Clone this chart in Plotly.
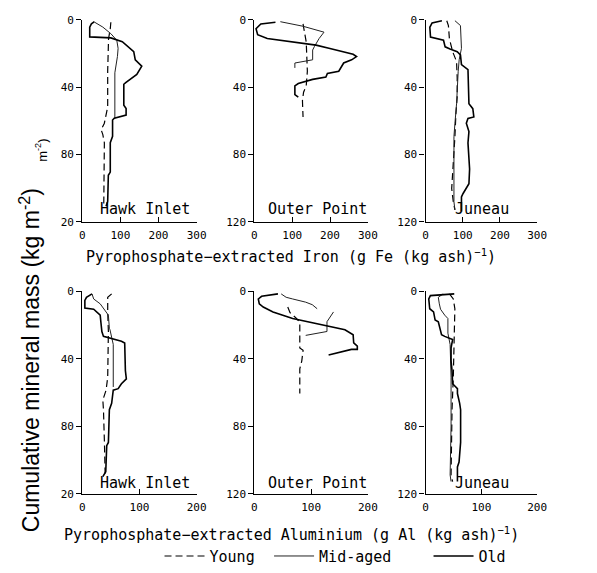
import plotly.graph_objects as go

# ---------------- DATA ----------------
# Depth = cumulative mineral mass (kg m-2)
# Iron panels (g Fe (kg ash)-1)
HI_FE_YOUNG_X = [75, 73.5, 69, 66.7, 66.7, 58, 49.6, 54, 58, 58, 56.4]
HI_FE_YOUNG_D = [1.5, 5.4, 11.2, 30.5, 51.8, 61.4, 65.3, 68.2, 73, 107.8, 110.7]
HI_FE_MID_X = [32.5, 54, 75, 90.6, 94, 92.3, 85.5, 85.5]
HI_FE_MID_D = [1.5, 4.4, 8.3, 12.2, 17, 21.8, 31.5, 58.5]
HI_FE_OLD_X = [32, 24, 19.6, 19.6, 75, 105, 135, 139, 156, 143, 114, 109, 109, 115, 115, 84, 79.5,
               79.5, 73.5, 73.5, 68.4, 66.7, 62.4]
HI_FE_OLD_D = [1.2, 2.5, 4.4, 10.2, 10.8, 13.1, 19, 23.8, 27.6, 32.5, 37.3, 38.3, 50.8, 52.7, 56.6,
               58.5, 59.5, 69.2, 73, 90.4, 92.3, 107.8, 110.7]

OP_FE_YOUNG_X = [128.6, 133, 137, 140, 137, 130, 127, 128.6]
OP_FE_YOUNG_D = [2.5, 7.4, 13.2, 30.6, 39.3, 43, 48, 57.7]
OP_FE_MID_X = [68.6, 128.6, 184, 171, 158.5, 154, 154, 107, 107]
OP_FE_MID_D = [1.2, 3.9, 7.4, 11.2, 16, 18, 23.8, 25.7, 28.6]
OP_FE_OLD_X = [55.7, 17, 4.3, 8.6, 34, 94, 163, 197, 261, 270, 257, 236, 227, 223, 193, 189, 154,
               116, 107, 107, 116]
OP_FE_OLD_D = [1.5, 2.5, 5.4, 8.9, 11.2, 13.2, 15.1, 17, 20.5, 21.9, 23.8, 25.7, 28.6, 30.6, 31.9,
               34, 35.4, 37.9, 39.3, 44.5, 46]

JU_FE_YOUNG_X = [57, 61.4, 64, 72.8, 83.3, 85, 85, 81.6, 78.9, 74.5, 70.2, 74.5, 78.9]
JU_FE_YOUNG_D = [0.6, 3.5, 11.2, 19, 24.8, 34.4, 46, 55.7, 69.3, 88.6, 100.2, 108, 112.8]
JU_FE_MID_X = [78.9, 93.8, 96.5, 90.3, 87.7, 86, 83.3, 78.9, 76.3, 76.3, 78.9]
JU_FE_MID_D = [0.6, 3.5, 17, 23.8, 30.6, 40.2, 49.9, 61.5, 69.3, 108, 112.8]
JU_FE_OLD_X = [43.9, 17.5, 11.4, 13.2, 48.2, 52.6, 65.8, 85, 93.8, 96.5, 114, 116.6, 127, 129.8,
               114, 109.6, 116.6, 114, 118.4, 116.6, 100.9, 96.5, 96.5]
JU_FE_OLD_D = [0.6, 1.9, 4.5, 10.3, 12.2, 16.1, 17.4, 19, 20.9, 26.7, 29.6, 49.9, 52.8, 57.7, 58.6,
               61.5, 66.4, 73.1, 88.6, 97.3, 103.1, 105.1, 113.8]

# Aluminium panels (g Al (kg ash)-1)
HI_AL_YOUNG_X = [51.4, 44.5, 44.5, 45.7, 44.5, 41.7, 36, 37.1, 38.8, 40]
HI_AL_YOUNG_D = [1.5, 3.5, 12.2, 23.8, 50.9, 58.6, 64.4, 70.2, 89.6, 108]
HI_AL_MID_X = [17.1, 20, 31.4, 40, 45.7, 47.4, 48.5, 54.2, 54.2]
HI_AL_MID_D = [1.5, 4.5, 7.4, 11.2, 14.1, 21.9, 22.8, 31.5, 56.7]
HI_AL_OLD_X = [17.1, 7.4, 4.6, 4.6, 20, 31.4, 32.5, 34.3, 37.1, 68.5, 74.2, 75.4, 77.1, 68.5, 62.8,
               54.2, 51.4, 47.4, 45.7, 42.8, 41.1, 36]
HI_AL_OLD_D = [1.5, 3.5, 5.4, 9.9, 10.6, 14.1, 18, 23.8, 26.7, 29.6, 30.6, 47, 51.9, 54.8, 57.7,
               58.6, 66.4, 70.2, 89.6, 91.5, 107, 109.9]

OP_AL_YOUNG_X = [58.8, 62.8, 73.2, 80, 80, 85.8, 83.5, 80, 80]
OP_AL_YOUNG_D = [9.3, 12.6, 15.7, 18.4, 33.5, 35, 41.2, 46, 60.6]
OP_AL_MID_X = [47.2, 55.9, 67.4, 90.4, 102, 110.6, None, 139.4, 133.6, 127.9, 127.9, 90.4]
OP_AL_MID_D = [1.5, 3.5, 4.5, 6.4, 7.9, 10.3, None, 12.2, 15.1, 18, 23.8, 26.1]
OP_AL_OLD_X = [41.5, 12.7, 6.9, 8.6, 15.6, 32.8, 67.4, 107.7, 136.5, 159.6, 174, 175, 181.4, 181.4,
               171, 130.8]
OP_AL_OLD_D = [1.5, 2.9, 4.5, 7.4, 9.3, 12.2, 16.1, 19, 20.9, 22.8, 25.7, 30.6, 32.5, 34.4, 34.4,
               37.7]

JU_AL_YOUNG_X = [42.8, 49.7, 52.5, 51.4, 49.7, 47.4, 46.3, 45.7, 48.5]
JU_AL_YOUNG_D = [1.5, 4.5, 10.3, 31.5, 50.9, 70.2, 89.6, 108.9, 112.8]
JU_AL_MID_X = [31.4, 22.8, 24.6, 26.8, 34.3, 40, 40, 44, 45.7, 45.7, 44, 45.7]
JU_AL_MID_D = [1.5, 3.5, 7.4, 10.6, 14.1, 16.1, 24.8, 31.5, 50.9, 79.9, 108.9, 112.8]
JU_AL_OLD_X = [51.4, 8.6, 5.7, 7.4, 14.3, 17.1, 22.8, 25.7, 28.6, 34.3, 48.5, 45.7, 45.7, 47.4, 48.5,
               57.1, 57.1, 61.1, 62.8, 62.8, 60, 57.1, 57.1]
JU_AL_OLD_D = [1.5, 2.5, 4.5, 10.3, 12.2, 17, 18, 21.9, 25.7, 26.7, 28.6, 33.5, 41.2, 47, 54.8,
               57.7, 60.6, 66.4, 70.2, 89.6, 101.2, 104.1, 112.8]

SITES = ["Hawk Inlet", "Outer Point", "Juneau"]
AGES = ["Young", "Mid-aged", "Old"]
FE_TICKS = [0, 100, 200, 300]
AL_TICKS = [0, 100, 200]
DEPTH_TICKS = [0, 40, 80, 120]

PANELS = [
    (0, 0, {"Young": (HI_FE_YOUNG_X, HI_FE_YOUNG_D), "Mid-aged": (HI_FE_MID_X, HI_FE_MID_D), "Old": (HI_FE_OLD_X, HI_FE_OLD_D)}),
    (0, 1, {"Young": (OP_FE_YOUNG_X, OP_FE_YOUNG_D), "Mid-aged": (OP_FE_MID_X, OP_FE_MID_D), "Old": (OP_FE_OLD_X, OP_FE_OLD_D)}),
    (0, 2, {"Young": (JU_FE_YOUNG_X, JU_FE_YOUNG_D), "Mid-aged": (JU_FE_MID_X, JU_FE_MID_D), "Old": (JU_FE_OLD_X, JU_FE_OLD_D)}),
    (1, 0, {"Young": (HI_AL_YOUNG_X, HI_AL_YOUNG_D), "Mid-aged": (HI_AL_MID_X, HI_AL_MID_D), "Old": (HI_AL_OLD_X, HI_AL_OLD_D)}),
    (1, 1, {"Young": (OP_AL_YOUNG_X, OP_AL_YOUNG_D), "Mid-aged": (OP_AL_MID_X, OP_AL_MID_D), "Old": (OP_AL_OLD_X, OP_AL_OLD_D)}),
    (1, 2, {"Young": (JU_AL_YOUNG_X, JU_AL_YOUNG_D), "Mid-aged": (JU_AL_MID_X, JU_AL_MID_D), "Old": (JU_AL_OLD_X, JU_AL_OLD_D)}),
]

# ---------------- STYLE / LAYOUT ----------------
W, H = 597, 573
FONT = "DejaVu Sans Mono"
LINE_STYLE = {
    "Young": dict(color="black", width=1.2, dash="7px,4px"),
    "Mid-aged": dict(color="#222222", width=1.0),
    "Old": dict(color="black", width=1.6),
}
LEGEND_NAME = {"Young": "legend", "Mid-aged": "legend2", "Old": "legend3"}

COL_PX = [(81, 198), (257, 373), (432, 546)]
ROW_PX = [(14, 221), (292, 499)]


def px_x(p):
    return p / W


def px_y(p):
    return 1 - p / H


fig = go.Figure()
layout = dict(
    width=W, height=H, margin=dict(l=0, r=0, t=0, b=0),
    paper_bgcolor="white", plot_bgcolor="white",
    font=dict(family=FONT, color="black", size=11),
    annotations=[],
)

for i, (row, col, series) in enumerate(PANELS):
    n = i + 1
    xs = "x" if n == 1 else f"x{n}"
    ys = "y" if n == 1 else f"y{n}"
    xkey = "xaxis" if n == 1 else f"xaxis{n}"
    ykey = "yaxis" if n == 1 else f"yaxis{n}"
    ticks = FE_TICKS if row == 0 else AL_TICKS
    for age in AGES:
        x, d = series[age]
        fig.add_trace(go.Scatter(
            x=x, y=d, mode="lines", line=LINE_STYLE[age], name=age,
            xaxis=xs, yaxis=ys, connectgaps=False,
            showlegend=(n == 1), legend=LEGEND_NAME[age],
        ))
    layout[xkey] = dict(
        domain=[px_x(COL_PX[col][0]), px_x(COL_PX[col][1])],
        anchor=ys, range=[0, ticks[-1]], tickvals=ticks,
        showline=True, linecolor="black", linewidth=1.3,
        ticks="inside", ticklen=5, tickcolor="black", tickwidth=1.3,
        showgrid=False, zeroline=False, tickfont=dict(size=11, family=FONT),
        ticklabelstandoff=3,
    )
    ytext = [str(v) for v in DEPTH_TICKS]
    if col == 0:
        ytext[-1] = "20"
    layout[ykey] = dict(
        domain=[px_y(ROW_PX[row][1]), px_y(ROW_PX[row][0])],
        anchor=xs, range=[120, 0], tickvals=DEPTH_TICKS, ticktext=ytext,
        showline=True, linecolor="black", linewidth=1.3,
        ticks="outside", ticklen=5, tickcolor="black", tickwidth=1.3,
        showgrid=False, zeroline=False, tickfont=dict(size=11, family=FONT),
    )
    label_x = {0: 145, 1: 321, 2: 490}[col]
    label_y = 208 if row == 0 else 488
    layout["annotations"].append(dict(
        text=SITES[col], xref="paper", yref="paper",
        x=px_x(label_x), y=px_y(label_y), xanchor="center", yanchor="middle",
        showarrow=False, font=dict(size=15, family=FONT),
    ))

layout["annotations"] += [
    dict(text="Pyrophosphate\u2212extracted Iron (g Fe (kg ash)<sup>\u22121</sup>)",
         xref="paper", yref="paper", x=px_x(294), y=px_y(256), xanchor="center", yanchor="middle",
         showarrow=False, font=dict(size=15, family=FONT)),
    dict(text="Pyrophosphate\u2212extracted Aluminium (g Al (kg ash)<sup>\u22121</sup>)",
         xref="paper", yref="paper", x=px_x(295), y=px_y(540), xanchor="center", yanchor="middle",
         showarrow=False, font=dict(size=15, family=FONT)),
    dict(text="Cumulative mineral mass (kg m<sup>-2</sup>)",
         xref="paper", yref="paper", x=px_x(27), y=px_y(362), xanchor="center", yanchor="middle",
         textangle=-90, showarrow=False, font=dict(size=23, family="Liberation Sans")),
    dict(text="m<sup>-2</sup>)",
         xref="paper", yref="paper", x=px_x(39), y=px_y(148), xanchor="center", yanchor="middle",
         textangle=-90, showarrow=False, font=dict(size=13, family="Liberation Sans")),
]

leg_common = dict(orientation="h", yanchor="middle", xanchor="left", y=px_y(563),
                  bgcolor="rgba(0,0,0,0)", font=dict(size=15, family=FONT), itemwidth=40)
layout["legend"] = dict(leg_common, x=px_x(160))
layout["legend2"] = dict(leg_common, x=px_x(272))
layout["legend3"] = dict(leg_common, x=px_x(435))

fig.update_layout(**layout)
fig.write_html("out.html")
